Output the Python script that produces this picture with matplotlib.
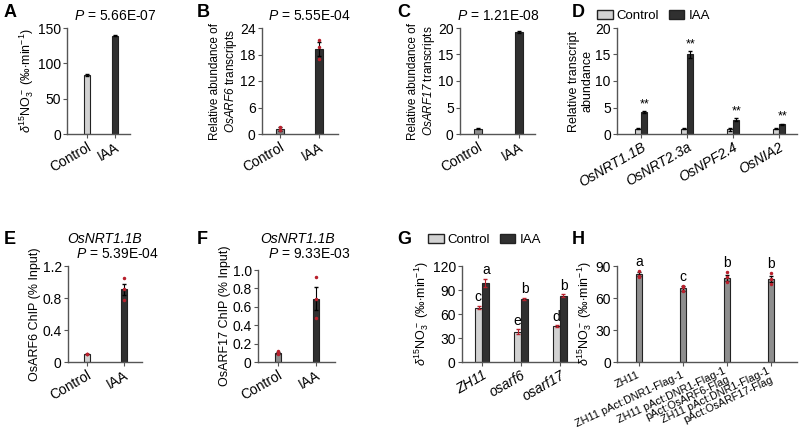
import numpy as np
import matplotlib
matplotlib.use('Agg')
import matplotlib.pyplot as plt
from matplotlib.patches import Patch

plt.rcParams['font.family'] = ['Liberation Sans', 'DejaVu Sans']
plt.rcParams['mathtext.fontset'] = 'custom'
plt.rcParams['mathtext.rm'] = 'Liberation Sans'
plt.rcParams['mathtext.it'] = 'Liberation Sans:italic'
plt.rcParams['mathtext.sf'] = 'Liberation Sans:italic'  # italic incl. digits
plt.rcParams['font.size'] = 9

# ---- data ----
two_groups = ['Control', 'IAA']
A_vals = [84, 139]
A_err = [1.5, 1.0]
A_p = '5.66E-07'

B_vals = [1.1, 19.2]
B_err = [0.4, 1.6]
B_dots = [[1.5, 1.0, 0.8], [21.3, 19.6, 17.0]]
B_p = '5.55E-04'

C_vals = [1.0, 19.2]
C_err = [0.15, 0.2]
C_p = '1.21E-08'

D_genes = ['OsNRT1.1B', 'OsNRT2.3a', 'OsNPF2.4', 'OsNIA2']
D_ctrl = [1.0, 1.0, 0.85, 1.0]
D_ctrl_err = [0.1, 0.15, 0.3, 0.1]
D_iaa = [4.1, 15.0, 2.7, 1.8]
D_iaa_err = [0.15, 0.6, 0.3, 0.1]

E_vals = [0.1, 0.91]
E_err = [0.005, 0.07]
E_dots = [[0.1, 0.1, 0.1], [1.05, 0.78, 0.91]]
E_p = '5.39E-04'

F_vals = [0.1, 0.69]
F_err = [0.01, 0.13]
F_dots = [[0.12, 0.1, 0.09], [0.92, 0.48, 0.68]]
F_p = '9.33E-03'

G_lines = ['ZH11', 'osarf6', 'osarf17']
G_ctrl = [68, 38, 45]
G_ctrl_err = [2, 3, 1]
G_iaa = [99, 79, 83]
G_iaa_err = [5, 1, 1.5]
G_ctrl_sig = ['c', 'e', 'd']
G_iaa_sig = ['a', 'b', 'b']

H_lines = ['ZH11', 'ZH11 pAct:DNR1-Flag-1',
           'ZH11 pAct:DNR1-Flag-1\npAct:OsARF6-Flag',
           'ZH11 pAct:DNR1-Flag-1\npAct:OsARF17-Flag']
H_vals = [82.5, 69, 79, 78]
H_err = [2, 2, 3, 3]
H_dots = [[85, 81, 80], [71, 67, 70], [84, 75, 80], [83, 73, 78]]
H_sig = ['a', 'c', 'b', 'b']

# ---- style ----
W, H = 800, 437
light = '#d2d2d2'
mid = '#8e8e8e'
dark = '#303030'
red = '#b8202c'
spine = '#555555'
d15_label = r'$\delta^{15}$NO$_3^-$ (‰$\cdot$min$^{-1}$)'
TICK = 10
LAB = 9

fig = plt.figure(figsize=(8, 4.37), dpi=100)


def add_ax(x0, y0, x1, y1):
    ax = fig.add_axes([x0 / W, 1 - y1 / H, (x1 - x0) / W, (y1 - y0) / H])
    for s in ['top', 'right']:
        ax.spines[s].set_visible(False)
    for s in ['left', 'bottom']:
        ax.spines[s].set_color(spine)
        ax.spines[s].set_linewidth(1.0)
    ax.tick_params(length=3, width=0.8, color=spine, pad=1.5, labelsize=TICK)
    return ax


def xlims(x0, x1, first, step, n):
    # axis pixel range -> data limits, with bar positions given in pixels
    return ((x0 - first) / step, (n - 1) + (x1 - (first + step * (n - 1))) / step)


def letter(x, y, s):
    fig.text(x / W, 1 - y / H, s, fontsize=13, fontweight='bold', va='top', ha='left')


def two_bar(ax, vals, err, colors, xlim, ylim, yticks, dots=None, width=0.18):
    x = np.arange(len(vals))
    ax.bar(x, vals, width=width, color=colors, edgecolor='#222222', linewidth=0.8, zorder=2)
    ax.errorbar(x, vals, yerr=err, fmt='none', ecolor='black', elinewidth=0.8, capsize=1.5, zorder=3)
    if dots is not None:
        for i, d in enumerate(dots):
            ax.plot([x[i]] * len(d), d, 'o', ms=1.5, color=red, zorder=4)
    ax.set_xlim(*xlim)
    ax.set_ylim(*ylim)
    ax.set_yticks(yticks)
    ax.set_xticks(x)
    ax.set_xticklabels(two_groups, rotation=30, ha='right', rotation_mode='anchor')


def ptext_fig(x, y, p):
    fig.text(x / W, 1 - y / H, r'$P$ = ' + p, fontsize=10, va='center', ha='left')


def legend(ax, x, y):
    ax.legend(handles=[Patch(facecolor=light, edgecolor='#222222', label='Control'),
                       Patch(facecolor=dark, edgecolor='#222222', label='IAA')],
              loc='center left', bbox_to_anchor=(x / W, 1 - y / H), bbox_transform=fig.transFigure,
              ncol=2, frameon=False, handlelength=1.2, handleheight=0.6, handletextpad=0.3,
              columnspacing=0.7, fontsize=9.5, borderaxespad=0, borderpad=0)


# A
ax = add_ax(67, 28, 130, 134)
two_bar(ax, A_vals, A_err, [light, dark], xlims(67, 130, 87, 28, 2), (0, 150), [0, 50, 100, 150])
ax.set_ylabel(d15_label, labelpad=1, fontsize=LAB)
ptext_fig(74, 16, A_p)
letter(4, 4, 'A')

# B
ax = add_ax(262, 28, 338, 134)
two_bar(ax, B_vals, B_err, [mid, dark], xlims(262, 338, 280, 39, 2), (0, 24), [0, 6, 12, 18, 24], dots=B_dots)
ax.set_ylabel('Relative abundance of\n' + r'$\mathsf{OsARF6}$ transcripts', labelpad=1, fontsize=8.5)
ptext_fig(268, 16, B_p)
letter(197, 4, 'B')

# C
ax = add_ax(460, 28, 535, 134)
two_bar(ax, C_vals, C_err, [mid, dark], xlims(460, 535, 478, 41, 2), (0, 20), [0, 5, 10, 15, 20])
ax.set_ylabel('Relative abundance of\n' + r'$\mathsf{OsARF17}$ transcripts', labelpad=1, fontsize=8.5)
ptext_fig(457, 16, C_p)
letter(397, 4, 'C')

# D
ax = add_ax(617, 28, 797, 134)
xd = np.arange(len(D_genes))
bw = 0.14
ax.bar(xd - bw / 2, D_ctrl, width=bw, color=light, edgecolor='#222222', linewidth=0.8, zorder=2)
ax.bar(xd + bw / 2, D_iaa, width=bw, color=dark, edgecolor='#222222', linewidth=0.8, zorder=2)
ax.errorbar(xd - bw / 2, D_ctrl, yerr=D_ctrl_err, fmt='none', ecolor='black', elinewidth=0.8, capsize=1.2, zorder=3)
ax.errorbar(xd + bw / 2, D_iaa, yerr=D_iaa_err, fmt='none', ecolor='black', elinewidth=0.8, capsize=1.2, zorder=3)
for i in range(len(D_genes)):
    ax.text(xd[i] + bw / 2, D_iaa[i] + D_iaa_err[i] + 0.2, '**', ha='center', va='bottom', fontsize=9)
ax.set_xlim(*xlims(617, 797, 641, 46, 4))
ax.set_ylim(0, 20)
ax.set_yticks([0, 5, 10, 15, 20])
ax.set_xticks(xd)
ax.set_xticklabels(D_genes, rotation=30, ha='right', rotation_mode='anchor', style='italic')
ax.set_ylabel('Relative transcript\nabundance', labelpad=1, fontsize=LAB)
legend(ax, 597, 16)
letter(572, 4, 'D')

# bottom row vertical extent
R2_TOP, R2_BOT = 266, 362

# E
ax = add_ax(68, R2_TOP, 142, R2_BOT)
two_bar(ax, E_vals, E_err, [light, dark], xlims(68, 142, 87, 37, 2), (0, 1.2), [0, 0.4, 0.8, 1.2], dots=E_dots)
ax.set_yticklabels(['0', '0.4', '0.8', '1.2'])
ax.set_ylabel('OsARF6 ChIP (% Input)', labelpad=1, fontsize=LAB)
ptext_fig(76, 254, E_p)
fig.text(105 / W, 1 - 239 / H, 'OsNRT1.1B', fontsize=10, style='italic', va='center', ha='center')
letter(4, 231, 'E')

# F
ax = add_ax(258, R2_TOP + 4, 335, R2_BOT)
two_bar(ax, F_vals, F_err, [mid, dark], xlims(258, 335, 278, 38, 2), (0, 1.0), [0, 0.2, 0.4, 0.6, 0.8, 1.0],
        dots=F_dots)
ax.set_yticklabels(['0', '0.2', '0.4', '0.6', '0.8', '1.0'])
ax.set_ylabel('OsARF17 ChIP (% Input)', labelpad=1, fontsize=LAB)
ptext_fig(268, 254, F_p)
fig.text(298 / W, 1 - 239 / H, 'OsNRT1.1B', fontsize=10, style='italic', va='center', ha='center')
letter(197, 231, 'F')

# G
ax = add_ax(462, R2_TOP, 580, R2_BOT)
xg = np.arange(len(G_lines))
bw = 0.17
ax.bar(xg - bw / 2, G_ctrl, width=bw, color=light, edgecolor='#222222', linewidth=0.8, zorder=2)
ax.bar(xg + bw / 2, G_iaa, width=bw, color=dark, edgecolor='#222222', linewidth=0.8, zorder=2)
ax.errorbar(xg - bw / 2, G_ctrl, yerr=G_ctrl_err, fmt='none', ecolor=red, elinewidth=0.8, capsize=1.2, zorder=3)
ax.errorbar(xg + bw / 2, G_iaa, yerr=G_iaa_err, fmt='none', ecolor=red, elinewidth=0.8, capsize=1.2, zorder=3)
for i in range(len(G_lines)):
    ax.text(xg[i] - bw / 2 - 0.02, G_ctrl[i] + G_ctrl_err[i] + 2, G_ctrl_sig[i], ha='center', va='bottom', fontsize=10)
    ax.text(xg[i] + bw / 2 + 0.02, G_iaa[i] + G_iaa_err[i] + 2, G_iaa_sig[i], ha='center', va='bottom', fontsize=10)
ax.set_xlim(*xlims(462, 580, 482, 39, 3))
ax.set_ylim(0, 120)
ax.set_yticks([0, 30, 60, 90, 120])
ax.set_xticks(xg)
ax.set_xticklabels(G_lines, rotation=30, ha='right', rotation_mode='anchor', style='italic')
ax.set_ylabel(d15_label, labelpad=1, fontsize=LAB)
legend(ax, 428, 240)
letter(397, 231, 'G')

# H
ax = add_ax(617, R2_TOP, 797, R2_BOT)
xh = np.arange(len(H_lines))
ax.bar(xh, H_vals, width=0.15, color=mid, edgecolor='#222222', linewidth=0.8, zorder=2)
ax.errorbar(xh, H_vals, yerr=H_err, fmt='none', ecolor='black', elinewidth=0.8, capsize=1.2, zorder=3)
for i, d in enumerate(H_dots):
    ax.plot([xh[i]] * len(d), d, 'o', ms=1.5, color=red, zorder=4)
    ax.text(xh[i], max(d) + 2, H_sig[i], ha='center', va='bottom', fontsize=10)
ax.set_xlim(*xlims(617, 797, 639, 44, 4))
ax.set_ylim(0, 90)
ax.set_yticks([0, 30, 60, 90])
ax.set_xticks(xh)
ax.set_xticklabels(H_lines, rotation=25, ha='right', va='center', rotation_mode='anchor',
                   multialignment='right', fontsize=7.8, linespacing=0.95)
ax.tick_params(axis='x', pad=6)
ax.set_ylabel(d15_label, labelpad=1, fontsize=LAB)
letter(572, 231, 'H')

fig.savefig('out.png', dpi=100)
